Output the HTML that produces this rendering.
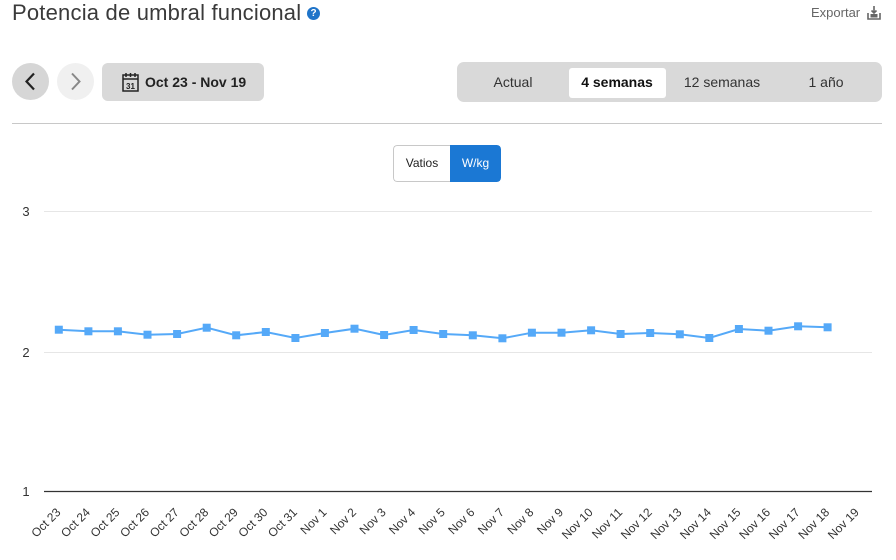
<!DOCTYPE html>
<html>
<head>
<meta charset="utf-8">
<style>
  html,body{margin:0;padding:0;background:#fff;}
  body{width:896px;height:560px;position:relative;overflow:hidden;font-family:"Liberation Sans",sans-serif;color:#333;}
  .abs{position:absolute;}
  .title{left:12px;top:-1px;font-size:22px;color:#3a3a3a;line-height:28px;letter-spacing:0.2px;white-space:nowrap;}
  .help{left:307px;top:7px;width:13px;height:13px;border-radius:50%;background:#1f74c9;color:#fff;font-size:10px;font-weight:bold;line-height:13px;text-align:center;}
  .export{left:811px;top:4px;font-size:13px;color:#666;line-height:18px;}
  .circ{width:37px;height:37px;border-radius:50%;}
  .date{left:102px;top:63px;width:162px;height:38px;border-radius:6px;background:#d9d9d9;}
  .date span{position:absolute;left:43px;top:10px;font-size:14px;font-weight:bold;color:#222;line-height:18px;white-space:nowrap;}
  .seg{left:457px;top:62px;width:425px;height:40px;border-radius:7px;background:#d9d9d9;}
  .seg .it{position:absolute;top:11px;font-size:14px;line-height:18px;color:#333;transform:translateX(-50%);white-space:nowrap;}
  .seg .act{position:absolute;left:112px;top:6px;width:97px;height:30px;background:#fff;border-radius:3px;}
  .sep{left:12px;top:123px;width:870px;height:1px;background:#c8c8c8;}
  .tog{left:393px;top:145px;width:108px;height:37px;border-radius:4px;overflow:hidden;}
  .tog .l{position:absolute;left:0;top:0;width:56px;height:35px;border:1px solid #c8c8c8;border-right:none;border-radius:4px 0 0 4px;background:#fff;font-size:12px;line-height:35px;text-align:center;color:#222;}
  .tog .r{position:absolute;left:57px;top:0;width:51px;height:37px;background:#1b78d4;border-radius:0 4px 4px 0;font-size:12px;line-height:37px;text-align:center;color:#fff;}
</style>
</head>
<body>
<div class="abs title">Potencia de umbral funcional</div>
<div class="abs help">?</div>
<div class="abs export">Exportar</div>
<svg class="abs" style="left:866px;top:5px" width="16" height="16" viewBox="0 0 16 16">
  <path d="M2 8 V14 H14 V8" fill="none" stroke="#666" stroke-width="1.6"/>
  <rect x="4.5" y="9" width="7" height="3.5" fill="#666"/>
  <path d="M8 1 V8 M5.5 5.5 L8 8 L10.5 5.5" fill="none" stroke="#666" stroke-width="1.6"/>
</svg>

<div class="abs circ" style="left:12px;top:63px;background:#d6d6d6;"></div>
<svg class="abs" style="left:12px;top:63px" width="37" height="37"><path d="M22 10.5 L14.5 18.5 L22 26.5" fill="none" stroke="#222" stroke-width="2.2"/></svg>
<div class="abs circ" style="left:57px;top:63px;background:#f0f0f0;"></div>
<svg class="abs" style="left:57px;top:63px" width="37" height="37"><path d="M15 10.5 L22.5 18.5 L15 26.5" fill="none" stroke="#888" stroke-width="2"/></svg>

<div class="abs date">
  <svg style="position:absolute;left:20px;top:9px" width="17" height="20" viewBox="0 0 17 20">
    <rect x="1" y="3" width="15" height="16" fill="none" stroke="#222" stroke-width="1.5"/>
    <line x1="1" y1="7" x2="16" y2="7" stroke="#222" stroke-width="1.5"/>
    <line x1="4" y1="1" x2="4" y2="5" stroke="#222" stroke-width="1.5"/>
    <line x1="8.5" y1="1" x2="8.5" y2="5" stroke="#222" stroke-width="1.5"/>
    <line x1="13" y1="1" x2="13" y2="5" stroke="#222" stroke-width="1.5"/>
    <text x="8.5" y="17" font-size="8" font-family="Liberation Sans" text-anchor="middle" fill="#222" font-weight="bold">31</text>
  </svg>
  <span>Oct 23 - Nov 19</span>
</div>

<div class="abs seg">
  <div class="act"></div>
  <div class="it" style="left:56px">Actual</div>
  <div class="it" style="left:160px;font-weight:bold;color:#111">4 semanas</div>
  <div class="it" style="left:265px">12 semanas</div>
  <div class="it" style="left:369px">1 año</div>
</div>

<div class="abs sep"></div>

<div class="abs tog">
  <div class="l">Vatios</div>
  <div class="r">W/kg</div>
</div>

<svg class="abs" style="left:0;top:0" width="896" height="560">
  <g font-family="Liberation Sans, sans-serif" font-size="13" fill="#333">
    <line x1="44" y1="211.5" x2="872" y2="211.5" stroke="#e6e6e6" stroke-width="1"/>
    <line x1="44" y1="352.5" x2="872" y2="352.5" stroke="#e6e6e6" stroke-width="1"/>
    <line x1="44" y1="491.5" x2="872" y2="491.5" stroke="#333" stroke-width="1.2"/>
    <text x="26" y="216" text-anchor="middle">3</text>
    <text x="26" y="357" text-anchor="middle">2</text>
    <text x="26" y="496" text-anchor="middle">1</text>
  </g>
  <polyline fill="none" stroke="#55a9f8" stroke-width="2" points="58.8,329.7 88.4,331.3 117.9,331.3 147.5,334.7 177.1,334 206.7,327.7 236.2,335.3 265.8,332 295.4,338 324.9,333 354.5,328.7 384.1,335 413.6,330 443.2,334 472.8,335.3 502.4,338.3 531.9,332.7 561.5,332.7 591.1,330.3 620.6,334 650.2,333 679.8,334.3 709.3,338 738.9,329 768.5,330.7 798.1,326.3 827.6,327.3"/>
  <g fill="#55a9f8">
    <rect x="54.8" y="325.7" width="8" height="8"/>
    <rect x="84.4" y="327.3" width="8" height="8"/>
    <rect x="113.9" y="327.3" width="8" height="8"/>
    <rect x="143.5" y="330.7" width="8" height="8"/>
    <rect x="173.1" y="330" width="8" height="8"/>
    <rect x="202.7" y="323.7" width="8" height="8"/>
    <rect x="232.2" y="331.3" width="8" height="8"/>
    <rect x="261.8" y="328" width="8" height="8"/>
    <rect x="291.4" y="334" width="8" height="8"/>
    <rect x="320.9" y="329" width="8" height="8"/>
    <rect x="350.5" y="324.7" width="8" height="8"/>
    <rect x="380.1" y="331" width="8" height="8"/>
    <rect x="409.6" y="326" width="8" height="8"/>
    <rect x="439.2" y="330" width="8" height="8"/>
    <rect x="468.8" y="331.3" width="8" height="8"/>
    <rect x="498.4" y="334.3" width="8" height="8"/>
    <rect x="527.9" y="328.7" width="8" height="8"/>
    <rect x="557.5" y="328.7" width="8" height="8"/>
    <rect x="587.1" y="326.3" width="8" height="8"/>
    <rect x="616.6" y="330" width="8" height="8"/>
    <rect x="646.2" y="329" width="8" height="8"/>
    <rect x="675.8" y="330.3" width="8" height="8"/>
    <rect x="705.3" y="334" width="8" height="8"/>
    <rect x="734.9" y="325" width="8" height="8"/>
    <rect x="764.5" y="326.7" width="8" height="8"/>
    <rect x="794.1" y="322.3" width="8" height="8"/>
    <rect x="823.6" y="323.3" width="8" height="8"/>
  </g>
  <g font-family="Liberation Sans, sans-serif" font-size="12" fill="#333" text-anchor="end">
    <text transform="translate(61.3,513) rotate(-45)">Oct 23</text>
    <text transform="translate(90.9,513) rotate(-45)">Oct 24</text>
    <text transform="translate(120.4,513) rotate(-45)">Oct 25</text>
    <text transform="translate(150,513) rotate(-45)">Oct 26</text>
    <text transform="translate(179.6,513) rotate(-45)">Oct 27</text>
    <text transform="translate(209.2,513) rotate(-45)">Oct 28</text>
    <text transform="translate(238.7,513) rotate(-45)">Oct 29</text>
    <text transform="translate(268.3,513) rotate(-45)">Oct 30</text>
    <text transform="translate(297.9,513) rotate(-45)">Oct 31</text>
    <text transform="translate(327.4,513) rotate(-45)">Nov 1</text>
    <text transform="translate(357,513) rotate(-45)">Nov 2</text>
    <text transform="translate(386.6,513) rotate(-45)">Nov 3</text>
    <text transform="translate(416.1,513) rotate(-45)">Nov 4</text>
    <text transform="translate(445.7,513) rotate(-45)">Nov 5</text>
    <text transform="translate(475.3,513) rotate(-45)">Nov 6</text>
    <text transform="translate(504.9,513) rotate(-45)">Nov 7</text>
    <text transform="translate(534.4,513) rotate(-45)">Nov 8</text>
    <text transform="translate(564,513) rotate(-45)">Nov 9</text>
    <text transform="translate(593.6,513) rotate(-45)">Nov 10</text>
    <text transform="translate(623.1,513) rotate(-45)">Nov 11</text>
    <text transform="translate(652.7,513) rotate(-45)">Nov 12</text>
    <text transform="translate(682.3,513) rotate(-45)">Nov 13</text>
    <text transform="translate(711.8,513) rotate(-45)">Nov 14</text>
    <text transform="translate(741.4,513) rotate(-45)">Nov 15</text>
    <text transform="translate(771,513) rotate(-45)">Nov 16</text>
    <text transform="translate(800.6,513) rotate(-45)">Nov 17</text>
    <text transform="translate(830.1,513) rotate(-45)">Nov 18</text>
    <text transform="translate(859.7,513) rotate(-45)">Nov 19</text>
  </g>
</svg>
</body>
</html>
